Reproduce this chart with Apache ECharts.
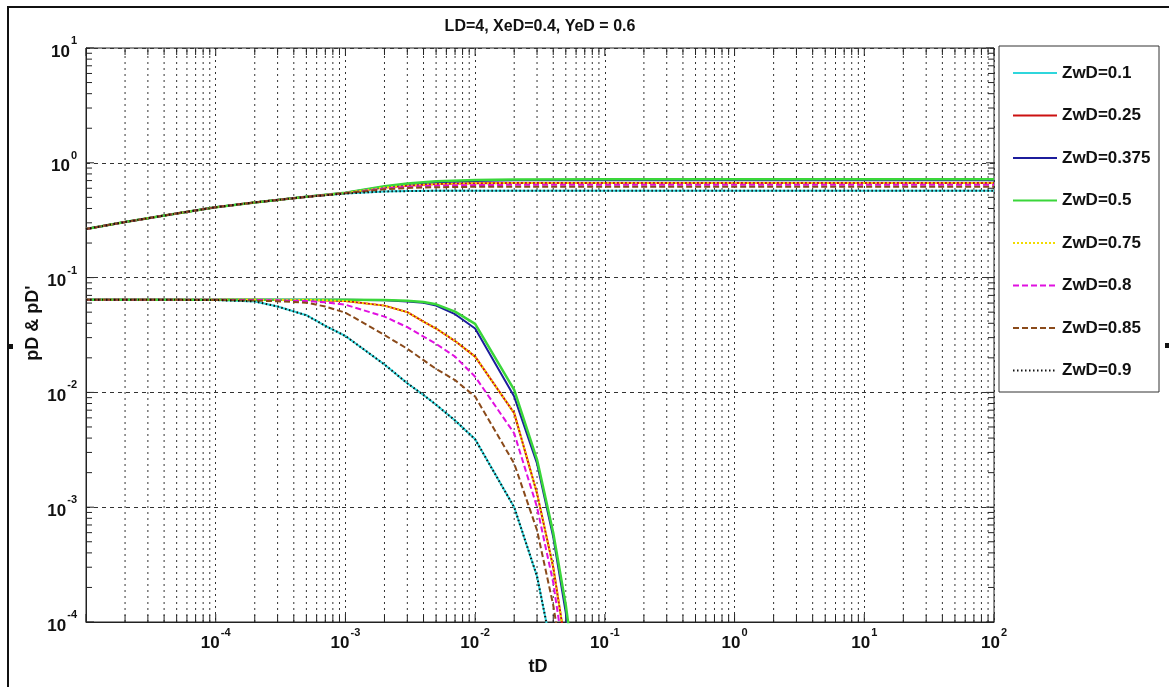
<!DOCTYPE html>
<html><head><meta charset="utf-8">
<script src="https://cdn.jsdelivr.net/npm/echarts@6/dist/echarts.min.js"></script>
<style>html,body{margin:0;padding:0;background:#fff}#c{width:1169px;height:687px}</style>
</head><body><div id="c"></div>
<script>
// ---------- DATA ----------
const seriesNames = ['ZwD=0.1','ZwD=0.25','ZwD=0.375','ZwD=0.5','ZwD=0.75','ZwD=0.8','ZwD=0.85','ZwD=0.9'];

// pD curves (upper)
const tdUpper = [1e-5,2e-5,5e-5,1e-4,2e-4,5e-4,1e-3,2e-3,3e-3,5e-3,1e-2,2e-2,1e-1,1,10,100];
const pD_010 = [0.265,0.305,0.362,0.41,0.452,0.505,0.540,0.563,0.567,0.570,0.571,0.571,0.571,0.571,0.571,0.571];
const pD_025 = [0.265,0.305,0.362,0.41,0.452,0.505,0.546,0.608,0.632,0.652,0.663,0.667,0.668,0.668,0.668,0.668];
const pD_0375= [0.265,0.305,0.362,0.41,0.452,0.505,0.548,0.620,0.652,0.678,0.695,0.703,0.705,0.705,0.705,0.705];
const pD_050 = [0.265,0.305,0.362,0.41,0.452,0.505,0.548,0.625,0.660,0.690,0.707,0.716,0.718,0.718,0.718,0.718];
const pD_075 = [0.265,0.305,0.362,0.41,0.452,0.505,0.546,0.608,0.632,0.652,0.663,0.667,0.668,0.668,0.668,0.668];
const pD_080 = [0.265,0.305,0.362,0.41,0.452,0.505,0.545,0.598,0.618,0.632,0.640,0.643,0.644,0.644,0.644,0.644];
const pD_085 = [0.265,0.305,0.362,0.41,0.452,0.505,0.544,0.588,0.603,0.613,0.618,0.620,0.620,0.620,0.620,0.620];
const pD_090 = [0.265,0.305,0.362,0.41,0.452,0.505,0.540,0.563,0.567,0.570,0.571,0.571,0.571,0.571,0.571,0.571];

// pD' curves (lower)
const tdLower = [1e-5,2e-5,5e-5,1e-4,2e-4,3e-4,5e-4,7e-4,1e-3,2e-3,3e-3,4e-3,5e-3,7e-3,1e-2,2e-2,3e-2,4e-2,5e-2,6e-2];
const dpD_010 = [0.0640,0.0640,0.0640,0.0638,0.0620,0.0560,0.0470,0.0380,0.0310,0.0175,0.0120,0.0095,0.0078,0.0057,0.0039,0.0010,0.00025,0.00005,0.00001,0.000002];
const dpD_025 = [0.0640,0.0640,0.0640,0.0640,0.0640,0.0639,0.0638,0.0633,0.0625,0.0570,0.0500,0.0413,0.0360,0.0280,0.0205,0.0066,0.00132,0.0003,0.00006,0.00001];
const dpD_0375= [0.0640,0.0640,0.0640,0.0640,0.0640,0.0640,0.0640,0.0640,0.0640,0.0635,0.0620,0.0605,0.0570,0.0480,0.0360,0.0092,0.0024,0.00055,0.00012,0.00002];
const dpD_050 = [0.0640,0.0640,0.0640,0.0640,0.0640,0.0640,0.0640,0.0640,0.0640,0.0638,0.0628,0.0612,0.0585,0.0505,0.0395,0.0105,0.0026,0.0006,0.00014,0.00003];
const dpD_075 = [0.0640,0.0640,0.0640,0.0640,0.0640,0.0639,0.0638,0.0633,0.0625,0.0570,0.0500,0.0413,0.0360,0.0280,0.0205,0.0066,0.00132,0.0003,0.00006,0.00001];
const dpD_080 = [0.0640,0.0640,0.0640,0.0640,0.0638,0.0634,0.0625,0.0610,0.0580,0.0457,0.0370,0.0306,0.0265,0.0205,0.0137,0.0044,0.0010,0.00022,0.00004,0.000008];
const dpD_085 = [0.0640,0.0640,0.0640,0.0638,0.0630,0.0622,0.0605,0.0560,0.0495,0.0316,0.0240,0.0191,0.0160,0.0128,0.0092,0.0024,0.00063,0.00014,0.00003,0.000005];
const dpD_090 = [0.0640,0.0640,0.0640,0.0638,0.0620,0.0560,0.0470,0.0380,0.0310,0.0175,0.0120,0.0095,0.0078,0.0057,0.0039,0.0010,0.00025,0.00005,0.00001,0.000002];

// axis ticks
const xMajorTicks = [1e-5,1e-4,1e-3,1e-2,1e-1,1,10,100];
const yMajorTicks = [1e-4,1e-3,1e-2,1e-1,1,10];
const minorMultipliers = [2,3,4,5,6,7,8,9];

// ---------- STYLES ----------
const X_MIN = 1e-5, X_MAX = 100, Y_MIN = 1e-4, Y_MAX = 10;
const FONT = 'Liberation Sans, Arial, sans-serif';
const styles = [
  {color:'#2fd6dc', type:'solid', width:2},
  {color:'#cc1111', type:'solid', width:2},
  {color:'#1c1c9c', type:'solid', width:2},
  {color:'#3ad63a', type:'solid', width:2.5},
  {color:'#f2dc00', type:[2,2], width:2},
  {color:'#e010e0', type:[6,3], width:2},
  {color:'#8a4a1a', type:[6,3], width:2},
  {color:'#111111', type:[1.5,2.5], width:2}
];
const upperSets = [pD_010,pD_025,pD_0375,pD_050,pD_075,pD_080,pD_085,pD_090];
const lowerSets = [dpD_010,dpD_025,dpD_0375,dpD_050,dpD_075,dpD_080,dpD_085,dpD_090];

function minorList(majors){
  const out = [];
  for (let i=0;i<majors.length-1;i++) for (const m of minorMultipliers) out.push(majors[i]*m);
  return out;
}
const xMinor = minorList(xMajorTicks);
const yMinor = minorList(yMajorTicks);

const series = [];
// minor vertical grid lines
series.push({
  type:'custom', silent:true, z:1, animation:false,
  data: xMinor.map(v=>[v, Y_MIN]),
  encode:{x:0,y:1},
  renderItem:function(p, api){
    const x = api.value(0);
    const b = api.coord([x, Y_MIN]), t = api.coord([x, Y_MAX]);
    return {type:'line', shape:{x1:b[0],y1:b[1],x2:t[0],y2:t[1]}, style:{stroke:'#333', lineWidth:1, lineDash:[2,4]}};
  }
});
// x ticks (bottom and top)
const xTickData = xMajorTicks.map(v=>[v, Y_MIN, 8]).concat(xMinor.map(v=>[v, Y_MIN, 7]));
series.push({
  type:'custom', silent:true, z:3, animation:false,
  data: xTickData, encode:{x:0,y:1},
  renderItem:function(p, api){
    const x = api.value(0), len = api.value(2);
    const b = api.coord([x, Y_MIN]), t = api.coord([x, Y_MAX]);
    const st = {stroke:'#222', lineWidth:1};
    return {type:'group', children:[
      {type:'line', shape:{x1:b[0],y1:b[1],x2:b[0],y2:b[1]-len}, style:st},
      {type:'line', shape:{x1:t[0],y1:t[1],x2:t[0],y2:t[1]+len}, style:st}
    ]};
  }
});
// y ticks (left and right)
const yTickData = yMajorTicks.map(v=>[X_MIN, v, 8]).concat(yMinor.map(v=>[X_MIN, v, 6]));
series.push({
  type:'custom', silent:true, z:3, animation:false,
  data: yTickData, encode:{x:0,y:1},
  renderItem:function(p, api){
    const y = api.value(1), len = api.value(2);
    const l = api.coord([X_MIN, y]), r = api.coord([X_MAX, y]);
    const st = {stroke:'#222', lineWidth:1};
    return {type:'group', children:[
      {type:'line', shape:{x1:l[0],y1:l[1],x2:l[0]+len,y2:l[1]}, style:st},
      {type:'line', shape:{x1:r[0],y1:r[1],x2:r[0]-len,y2:r[1]}, style:st}
    ]};
  }
});

seriesNames.forEach((name, i)=>{
  const s = styles[i];
  [[tdUpper, upperSets[i]], [tdLower, lowerSets[i]]].forEach(([xs, ys])=>{
    series.push({
      name: name, type:'line', symbol:'none', showSymbol:false, smooth:false,
      clip:true, animation:false, z:5+i,
      lineStyle:{color:s.color, type:s.type, width:s.width},
      itemStyle:{color:s.color},
      data: xs.map((x,k)=>[x, ys[k]])
    });
  });
});

function powLabel(v){
  const e = Math.round(Math.log10(v));
  return '{b|10}{s|' + e + '}';
}
const richLab = {
  b:{fontSize:17, fontWeight:'bold', fontFamily:FONT, color:'#111', padding:[8,0,0,0], verticalAlign:'bottom'},
  s:{fontSize:11, fontWeight:'bold', fontFamily:FONT, color:'#111', verticalAlign:'top', padding:[0,0,0,1]}
};

const chart = echarts.init(document.getElementById('c'), null, {renderer:'canvas'});
chart.setOption({
  backgroundColor:'#ffffff',
  animation:false,
  grid:{left:86, right:175, top:48, bottom:65, show:true, borderColor:'#222', borderWidth:1, backgroundColor:'transparent'},
  xAxis:{
    type:'log', logBase:10, min:X_MIN, max:X_MAX,
    axisLine:{show:true, lineStyle:{color:'#222', width:1}},
    axisTick:{show:false},
    axisLabel:{showMinLabel:false, margin:5, formatter:powLabel, rich:richLab},
    splitLine:{show:true, lineStyle:{color:'#333', type:[2,4], width:1}}
  },
  yAxis:{
    type:'log', logBase:10, min:Y_MIN, max:Y_MAX,
    axisLine:{show:true, lineStyle:{color:'#222', width:1}},
    axisTick:{show:false},
    axisLabel:{margin:9, formatter:powLabel, rich:richLab},
    splitLine:{show:true, lineStyle:{color:'#333', type:[4,4], width:1}}
  },
  legend:{
    orient:'vertical', left:1007, top:59,
    itemWidth:44, itemHeight:18, itemGap:24.5,
    data:seriesNames,
    itemStyle:{opacity:0},
    textStyle:{fontSize:17, fontWeight:'bold', fontFamily:FONT, color:'#111', lineHeight:18},
    selectedMode:false
  },
  graphic:[
    {type:'rect', shape:{x:8, y:7, width:1200, height:700}, style:{fill:'none', stroke:'#111', lineWidth:2}, silent:true},
    {type:'rect', shape:{x:999, y:46, width:160, height:346}, style:{fill:'none', stroke:'#333', lineWidth:1}, silent:true},
    {type:'rect', shape:{x:9, y:344, width:4, height:5}, style:{fill:'#111'}, silent:true},
    {type:'rect', shape:{x:1165, y:343, width:4, height:5}, style:{fill:'#111'}, silent:true},
    {type:'text', x:540, y:27, style:{text:'LD=4, XeD=0.4, YeD = 0.6', font:'bold 16px '+FONT, fill:'#111', align:'center', verticalAlign:'middle', textAlign:'center', textVerticalAlign:'middle'}, silent:true},
    {type:'text', x:538, y:667, style:{text:'tD', font:'bold 18px '+FONT, fill:'#111', align:'center', verticalAlign:'middle', textAlign:'center', textVerticalAlign:'middle'}, silent:true},
    {type:'text', x:33, y:323, rotation:Math.PI/2, style:{text:"pD & pD'", font:'bold 18px '+FONT, fill:'#111', align:'center', verticalAlign:'middle', textAlign:'center', textVerticalAlign:'middle'}, silent:true}
  ],
  series: series
});
</script>
</body></html>
